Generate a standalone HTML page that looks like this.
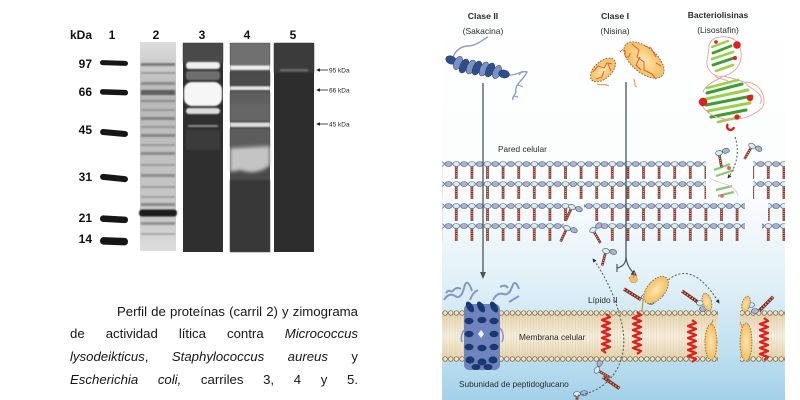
<!DOCTYPE html>
<html><head><meta charset="utf-8">
<style>
html,body{margin:0;padding:0;background:#fff;}
body{width:800px;height:400px;position:relative;overflow:hidden;font-family:"Liberation Sans",Arial,sans-serif;}
svg{position:absolute;left:0;top:0;}
.cap{position:absolute;left:70px;width:288px;font-size:13.2px;line-height:16px;color:#161616;text-align:justify;text-align-last:justify;}
</style></head><body>
<svg width="800" height="400" viewBox="0 0 800 400" xmlns="http://www.w3.org/2000/svg" font-family="Liberation Sans, Arial, sans-serif">
<defs>
  <filter id="bl1" x="-20%" y="-50%" width="140%" height="200%"><feGaussianBlur stdDeviation="0.9"/></filter>
  <filter id="bl2" x="-20%" y="-50%" width="140%" height="200%"><feGaussianBlur stdDeviation="1.8"/></filter>
  <linearGradient id="bg" x1="0" y1="0" x2="0" y2="1">
    <stop offset="0" stop-color="#ffffff"/>
    <stop offset="0.48" stop-color="#fbfdfe"/>
    <stop offset="0.7" stop-color="#e2f1f8"/>
    <stop offset="0.88" stop-color="#bfe0f0"/>
    <stop offset="1" stop-color="#a3d1ea"/>
  </linearGradient>
  <linearGradient id="memg" x1="0" y1="0" x2="0" y2="1">
    <stop offset="0" stop-color="#e3d2ad"/>
    <stop offset="0.5" stop-color="#f7f0e0"/>
    <stop offset="1" stop-color="#e3d2ad"/>
  </linearGradient>
  <linearGradient id="l2" x1="0" y1="0" x2="0" y2="1">
    <stop offset="0" stop-color="#dcdcdc"/>
    <stop offset="0.25" stop-color="#b8b8b8"/>
    <stop offset="0.6" stop-color="#c2c2c2"/>
    <stop offset="0.85" stop-color="#cacaca"/>
    <stop offset="1" stop-color="#dedede"/>
  </linearGradient>
  <radialGradient id="org" cx="0.5" cy="0.5" r="0.6">
    <stop offset="0" stop-color="#fde7b5"/>
    <stop offset="1" stop-color="#f4b54c"/>
  </radialGradient>
  <pattern id="pg" patternUnits="userSpaceOnUse" width="15.6" height="20">
    <line x1="3.9" y1="5" x2="3.9" y2="18" stroke="#7a2a1a" stroke-width="2.6"/>
    <line x1="3.9" y1="5.5" x2="3.9" y2="17.5" stroke="#f0b8a6" stroke-width="1.2" stroke-dasharray="1.1 1.1"/>
    <line x1="0" y1="3" x2="15.6" y2="3" stroke="#556070" stroke-width="0.8"/>
    <ellipse cx="3.9" cy="3" rx="3.5" ry="2.5" fill="#d4ecf4" stroke="#4a5568" stroke-width="0.6"/>
    <ellipse cx="11.7" cy="3" rx="3.5" ry="2.5" fill="#a9b3d3" stroke="#4a5568" stroke-width="0.6"/>
  </pattern>
  <pattern id="mc" patternUnits="userSpaceOnUse" width="5.6" height="6">
    <circle cx="2.8" cy="3" r="2.3" fill="#efe4c6" stroke="#6e5e3e" stroke-width="0.7"/>
  </pattern>
  <pattern id="mv" patternUnits="userSpaceOnUse" width="2.8" height="10">
    <line x1="1.4" y1="0" x2="1.4" y2="10" stroke="#d6c49c" stroke-width="0.5"/>
  </pattern>
  <g id="u">
    <line x1="0" y1="2" x2="0" y2="15" stroke="#7a2a1a" stroke-width="2.6"/>
    <line x1="0" y1="2.5" x2="0" y2="14.5" stroke="#f0b8a6" stroke-width="1.2" stroke-dasharray="1.1 1.1"/>
    <ellipse cx="0" cy="0" rx="3.5" ry="2.5" fill="#d4ecf4" stroke="#4a5568" stroke-width="0.6"/>
    <ellipse cx="7.2" cy="-1" rx="3.5" ry="2.5" fill="#a9b3d3" stroke="#4a5568" stroke-width="0.6"/>
  </g>
  <g id="chain">
    <line x1="0" y1="0" x2="20" y2="0" stroke="#7a2a1a" stroke-width="3.4"/>
    <line x1="0" y1="0" x2="20" y2="0" stroke="#f0a090" stroke-width="1.6" stroke-dasharray="1.4 1.6"/>
  </g>
  <marker id="ah" viewBox="0 0 10 10" refX="8" refY="5" markerWidth="5" markerHeight="5" orient="auto"><path d="M0,0 L10,5 L0,10 z" fill="#444"/></marker>
  <marker id="ah2" viewBox="0 0 10 10" refX="8" refY="5" markerWidth="4" markerHeight="4" orient="auto"><path d="M0,0 L10,5 L0,10 z" fill="#333"/></marker>
</defs>

<!-- ================= GEL ================= -->
<g font-weight="bold" font-size="12" fill="#111">
  <text x="70" y="39">kDa</text>
  <text x="112" y="39" text-anchor="middle">1</text>
  <text x="156" y="39" text-anchor="middle">2</text>
  <text x="202" y="39" text-anchor="middle">3</text>
  <text x="247" y="39" text-anchor="middle">4</text>
  <text x="293" y="39" text-anchor="middle">5</text>
  <text x="92" y="68" text-anchor="end">97</text>
  <text x="92" y="96" text-anchor="end">66</text>
  <text x="92" y="134" text-anchor="end">45</text>
  <text x="92" y="181" text-anchor="end">31</text>
  <text x="92" y="222" text-anchor="end">21</text>
  <text x="92" y="243" text-anchor="end">14</text>
</g>
<!-- lane 1 markers -->
<g fill="#161616">
  <rect x="100" y="60.5" width="28" height="5" rx="2.5" transform="rotate(2 114 63)"/>
  <rect x="100" y="89.5" width="28" height="5.5" rx="2.5" transform="rotate(2 114 92)"/>
  <rect x="100" y="130" width="28" height="6" rx="3" transform="rotate(5 114 133)"/>
  <rect x="100" y="175" width="28" height="6" rx="3" transform="rotate(6 114 178)"/>
  <rect x="100" y="216" width="28" height="6.5" rx="3" transform="rotate(3 114 219)"/>
  <rect x="100" y="237.5" width="28" height="7.5" rx="3.5" transform="rotate(2 114 241)"/>
</g>
<!-- lane 2 -->
<rect x="140" y="42" width="36" height="209" fill="url(#l2)"/>
<g filter="url(#bl1)">
  <rect x="141" y="63" width="34" height="3" fill="#7a7a7a"/>
  <rect x="141" y="72" width="34" height="2" fill="#999"/>
  <rect x="141" y="82" width="34" height="3" fill="#8a8a8a"/>
  <rect x="141" y="90" width="34" height="5" fill="#5e5e5e"/>
  <rect x="141" y="100" width="34" height="2" fill="#888"/>
  <rect x="141" y="109" width="34" height="2" fill="#959595"/>
  <rect x="141" y="117" width="34" height="3" fill="#838383"/>
  <rect x="141" y="126" width="34" height="2" fill="#959595"/>
  <rect x="141" y="134" width="34" height="3" fill="#858585"/>
  <rect x="141" y="144" width="34" height="2" fill="#989898"/>
  <rect x="141" y="152" width="34" height="3" fill="#898989"/>
  <rect x="141" y="164" width="34" height="2" fill="#9a9a9a"/>
  <rect x="141" y="174" width="34" height="3" fill="#8c8c8c"/>
  <rect x="141" y="186" width="34" height="2" fill="#9a9a9a"/>
  <rect x="141" y="196" width="34" height="2" fill="#a0a0a0"/>
  <rect x="141" y="203" width="34" height="3" fill="#898989"/>
  <rect x="139" y="209.5" width="38" height="7" rx="3" fill="#1c1c1c"/>
  <rect x="141" y="222" width="34" height="3" fill="#909090"/>
  <rect x="141" y="233" width="34" height="2" fill="#a8a8a8"/>
</g>
<!-- lane 3 -->
<rect x="183" y="43" width="40" height="209" fill="#2f2f2f"/>
<rect x="183" y="43" width="40" height="20" fill="#484848" filter="url(#bl1)"/>
<g filter="url(#bl1)">
  <rect x="186" y="62" width="34" height="7" rx="3" fill="#efefef"/>
  <rect x="186" y="71" width="34" height="9" rx="3" fill="#6e6e6e"/>
  <rect x="184" y="82" width="38" height="24" rx="8" fill="#f6f6f6"/>
  <rect x="186" y="108" width="34" height="6" rx="3" fill="#dcdcdc"/>
  <rect x="188" y="125" width="30" height="2" fill="#8c8c8c"/>
  <rect x="186" y="130" width="34" height="20" fill="#3a3a3a"/>
</g>
<!-- lane 4 -->
<rect x="230" y="43" width="40" height="209" fill="#4a4a4a"/>
<g filter="url(#bl1)">
  <rect x="230" y="43" width="40" height="22" fill="#707070"/>
  <rect x="230" y="65.5" width="40" height="4.5" fill="#eeeeee"/>
  <rect x="230" y="72" width="40" height="14" fill="#4c4c4c"/>
  <rect x="230" y="86.5" width="40" height="3.5" fill="#ececec"/>
  <rect x="230" y="92" width="40" height="12" fill="#5e5e5e"/>
  <rect x="230" y="104" width="40" height="17" fill="#666"/>
  <rect x="230" y="122.5" width="40" height="4.5" fill="#dedede"/>
  <rect x="230" y="129" width="40" height="18" fill="#5c5c5c"/>
  <rect x="230" y="180" width="40" height="72" fill="#383838"/>
</g>
<path d="M230,148 L270,146 L270,165 Q258,176 240,170 L230,172 Z" fill="#c4c4c4" filter="url(#bl2)"/>
<!-- lane 5 -->
<rect x="274" y="43" width="40" height="209" fill="#2d2d2d"/>
<rect x="274" y="43" width="40" height="30" fill="#3a3a3a" filter="url(#bl1)"/>
<rect x="280" y="69" width="28" height="2.5" fill="#6c6c6c" filter="url(#bl1)"/>
<!-- arrows -->
<g stroke="#222" stroke-width="0.8" fill="#222">
  <line x1="319" y1="70" x2="328" y2="70"/><path d="M316,70 L320,68.3 L320,71.7 Z" stroke="none"/>
  <line x1="319" y1="90" x2="328" y2="90"/><path d="M316,90 L320,88.3 L320,91.7 Z" stroke="none"/>
  <line x1="319" y1="124" x2="328" y2="124"/><path d="M316,124 L320,122.3 L320,125.7 Z" stroke="none"/>
</g>
<g font-size="6.5" fill="#222">
  <text x="329" y="72.3">95 kDa</text>
  <text x="329" y="92.3">66 kDa</text>
  <text x="329" y="126.3">45 kDa</text>
</g>

<!-- ================= DIAGRAM ================= -->
<rect x="442" y="0" width="343" height="400" fill="url(#bg)"/>

<!-- peptidoglycan rows -->
<g transform="translate(0,161)">
  <rect x="442" y="0" width="264" height="20" fill="url(#pg)"/>
  <rect x="753" y="0" width="32" height="20" fill="url(#pg)"/>
</g>
<g transform="translate(0,181)">
  <rect x="442" y="0" width="264" height="20" fill="url(#pg)"/>
  <rect x="753" y="0" width="32" height="20" fill="url(#pg)"/>
</g>
<g transform="translate(0,203)">
  <rect x="442" y="0" width="128" height="20" fill="url(#pg)"/>
  <rect x="584" y="0" width="161" height="20" fill="url(#pg)"/>
  <rect x="768" y="0" width="17" height="20" fill="url(#pg)"/>
</g>
<g transform="translate(0,223)">
  <rect x="442" y="0" width="122" height="20" fill="url(#pg)"/>
  <rect x="600" y="0" width="145" height="20" fill="url(#pg)"/>
  <rect x="762" y="0" width="23" height="20" fill="url(#pg)"/>
</g>
<!-- loose fragments -->
<use href="#u" transform="translate(572,207) rotate(25)"/>
<use href="#u" transform="translate(567,228) rotate(25)"/>
<use href="#u" transform="translate(593,230) rotate(-30)"/>
<use href="#u" transform="translate(606,251) rotate(15)"/>
<use href="#u" transform="translate(752,146) rotate(30)"/>
<use href="#u" transform="translate(719,153) rotate(-10)"/>
<use href="#u" transform="translate(577,394) rotate(0)"/>
<use href="#u" transform="translate(597,370) rotate(-60)"/>
<use href="#chain" transform="translate(603,377) rotate(35)"/>

<!-- membrane -->
<g>
  <rect x="442" y="313" width="276" height="46" fill="url(#memg)"/>
  <rect x="740" y="313" width="45" height="46" fill="url(#memg)"/>
  <rect x="442" y="316" width="276" height="40" fill="url(#mv)" opacity="0.7"/>
  <rect x="740" y="316" width="45" height="40" fill="url(#mv)" opacity="0.7"/>
  <g transform="translate(0,310)">
    <rect x="442" y="0" width="276" height="6" fill="url(#mc)"/>
    <rect x="740" y="0" width="45" height="6" fill="url(#mc)"/>
  </g>
  <g transform="translate(0,356)">
    <rect x="442" y="0" width="276" height="6" fill="url(#mc)"/>
    <rect x="740" y="0" width="45" height="6" fill="url(#mc)"/>
  </g>
</g>

<!-- Clase II arrow line -->
<line x1="483" y1="83" x2="483" y2="273" stroke="#4a5560" stroke-width="1.3"/>
<path d="M480,272 L486,272 L483,279 Z" fill="#4a5560"/>
<!-- Clase I line and split -->
<line x1="626" y1="82" x2="626" y2="258" stroke="#4a5560" stroke-width="1.3"/>
<path d="M626,257 Q626,266 617,268" fill="none" stroke="#4a5560" stroke-width="1.2"/>
<line x1="617" y1="264" x2="617" y2="272" stroke="#4a5560" stroke-width="1.2"/>
<path d="M626,257 Q627,268 636,275" fill="none" stroke="#4a5560" stroke-width="1.2" marker-end="url(#ah)"/>

<!-- dashed arrows -->
<g fill="none" stroke="#555" stroke-width="1" stroke-dasharray="2 1.8">
  <path d="M735,137 Q742,158 728,178" marker-end="url(#ah2)"/>
  <path d="M574,396 C612,392 630,360 622,325 C617,300 605,275 593,259" marker-end="url(#ah2)"/>
  <path d="M663,285 Q690,255 719,303" marker-end="url(#ah2)"/>
</g>

<!-- Sakacina free -->
<g>
  <path d="M453,58 C455,50 462,46 468,46 C476,46 482,40 488,37" fill="none" stroke="#8c9cd0" stroke-width="1.4"/>
  <path d="M508,75 C516,76 522,70 527,72 C524,80 514,84 516,92 C514,96 512,98 513,100" fill="none" stroke="#8c9cd0" stroke-width="1.4"/>
  <path d="M519,75 l3,-4 M518,85 l5,2 M514,96 l4,1" fill="none" stroke="#8c9cd0" stroke-width="1.2"/>
  <g stroke="#233e6e" stroke-width="0.5">
    <ellipse cx="451" cy="60" rx="5.5" ry="4" fill="#2f4f86" transform="rotate(20 451 60)"/>
    <ellipse cx="458" cy="63" rx="4" ry="7" fill="#7d92c2" transform="rotate(25 458 63)"/>
    <ellipse cx="464" cy="66" rx="4" ry="7.5" fill="#2f4f86" transform="rotate(25 464 66)"/>
    <ellipse cx="471" cy="67" rx="4" ry="7.5" fill="#7d92c2" transform="rotate(25 471 67)"/>
    <ellipse cx="477" cy="68" rx="4" ry="7.5" fill="#2f4f86" transform="rotate(25 477 68)"/>
    <ellipse cx="484" cy="69" rx="4" ry="7.5" fill="#7d92c2" transform="rotate(25 484 69)"/>
    <ellipse cx="490" cy="70" rx="4" ry="7.5" fill="#2f4f86" transform="rotate(25 490 70)"/>
    <ellipse cx="497" cy="72" rx="4" ry="7" fill="#7d92c2" transform="rotate(25 497 72)"/>
    <ellipse cx="504" cy="74" rx="5.5" ry="4" fill="#2f4f86" transform="rotate(10 504 74)"/>
  </g>
</g>

<!-- Nisina -->
<g>
  <ellipse cx="603" cy="70" rx="15" ry="8.5" transform="rotate(-42 603 70)" fill="url(#org)" stroke="#666" stroke-width="0.9" stroke-dasharray="1.6 1.4"/>
  <ellipse cx="644" cy="60" rx="24" ry="12.5" transform="rotate(40 644 60)" fill="url(#org)" stroke="#666" stroke-width="0.9" stroke-dasharray="1.6 1.4"/>
  <path d="M593,72 l5,-6 l6,2 l3,-5 l5,1 M596,79 l6,-2 l2,-6 M608,64 l3,7 M620,52 c3,-4 6,-2 5,2 c-1,5 6,4 5,-1" fill="none" stroke="#e8501c" stroke-width="0.9"/>
  <path d="M632,44 l7,6 l-2,7 l7,5 l0,8 l8,4 l4,5 M645,46 l6,2 l5,9 M640,57 l-4,8 l5,5 M656,63 l5,3" fill="none" stroke="#e8501c" stroke-width="0.9"/>
  <path d="M597,84 c4,2 8,-1 12,2 M634,79 c2,4 -1,6 3,8" fill="none" stroke="#f08040" stroke-width="0.9"/>
</g>

<!-- Lysostaphin -->
<g>
  <path d="M712,40 C720,34 738,36 740,48 C744,60 738,72 724,76 C712,78 704,68 708,56 C709,48 708,44 712,40 Z" fill="none" stroke="#e8a0a0" stroke-width="0.9"/>
  <path d="M724,76 C735,80 745,80 748,86 C755,90 765,96 760,104 M722,77 C712,82 705,86 703,92 M715,76 c4,4 10,2 14,6" fill="none" stroke="#e8a0a0" stroke-width="1"/>
  <g stroke-linecap="round">
    <path d="M712,47 L728,41" stroke="#9bd04a" stroke-width="2.4"/>
    <path d="M713,53 L731,46" stroke="#3d9e2e" stroke-width="2.8"/>
    <path d="M712,59 L733,52" stroke="#9bd04a" stroke-width="2.6"/>
    <path d="M713,65 L734,58" stroke="#3d9e2e" stroke-width="2.8"/>
    <path d="M716,71 L733,65" stroke="#9bd04a" stroke-width="2.6"/>
    <path d="M707,88 L738,80" stroke="#9bd04a" stroke-width="2.6"/>
    <path d="M707,93 L742,84" stroke="#3d9e2e" stroke-width="3"/>
    <path d="M706,99 L748,90" stroke="#9bd04a" stroke-width="3"/>
    <path d="M706,105 L752,96" stroke="#3d9e2e" stroke-width="3"/>
    <path d="M708,111 L750,103" stroke="#9bd04a" stroke-width="3"/>
    <path d="M711,117 L746,110" stroke="#3d9e2e" stroke-width="3"/>
    <path d="M718,122 L740,117" stroke="#9bd04a" stroke-width="2.6"/>
  </g>
  <path d="M700,100 C704,120 740,128 762,108 C768,98 760,82 745,82" fill="none" stroke="#e8a0a0" stroke-width="0.9"/>
  <circle cx="737" cy="45" r="3.8" fill="#e02020"/>
  <circle cx="735" cy="58" r="2" fill="#e02020"/>
  <circle cx="716" cy="42" r="1.8" fill="#e02020"/>
  <circle cx="703" cy="102" r="4.2" fill="#e02020"/>
  <circle cx="750" cy="98" r="3.2" fill="#e02020"/>
  <circle cx="737" cy="117" r="2.6" fill="#e02020"/>
  <path d="M728,124 a3.5,3.5 0 1,0 6,3" fill="none" stroke="#e02020" stroke-width="2.4"/>
  <g opacity="0.7">
    <path d="M714,170 L730,164 M716,176 L734,170 M716,190 L732,186 M718,196 L734,192" stroke="#5bb03a" stroke-width="2.2"/>
    <circle cx="729" cy="168" r="2" fill="#e02020"/>
    <circle cx="722" cy="196" r="1.8" fill="#e02020"/>
    <path d="M710,178 C716,184 735,182 738,196" fill="none" stroke="#e8a0a0" stroke-width="0.8"/>
  </g>
</g>

<!-- Sakacina pore -->
<g>
  <path d="M444,300 q5,-8 11,-4 t9,-8 t8,3 M452,292 q4,-6 9,-3 M470,300 q3,-8 8,-10 M446,293 q3,-4 6,-1" fill="none" stroke="#8596c8" stroke-width="2"/>
  <path d="M493,300 q4,-8 10,-6 t9,-7 t7,2 M500,287 q5,-3 8,1 M509,302 q5,-3 10,-6" fill="none" stroke="#8596c8" stroke-width="2"/>
  <rect x="464" y="304" width="36" height="66" rx="5" fill="#6f84bc"/>
  <g fill="#1b3772">
    <ellipse cx="470" cy="307" rx="3.2" ry="6" transform="rotate(-30 470 307)"/>
    <ellipse cx="481" cy="307" rx="3.2" ry="6" transform="rotate(-30 481 307)"/>
    <ellipse cx="494" cy="307" rx="3.2" ry="6" transform="rotate(-30 494 307)"/>
    <ellipse cx="469" cy="321" rx="4.5" ry="3.2" />
    <ellipse cx="482" cy="320" rx="4.5" ry="3.2" />
    <ellipse cx="494" cy="321" rx="4.5" ry="3.2" />
    <ellipse cx="469" cy="334" rx="4.5" ry="3.2" />
    <ellipse cx="494" cy="334" rx="4.5" ry="3.2" />
    <ellipse cx="469" cy="347" rx="4.5" ry="3.2" />
    <ellipse cx="482" cy="348" rx="4.5" ry="3.2" />
    <ellipse cx="494" cy="347" rx="4.5" ry="3.2" />
    <ellipse cx="470" cy="360" rx="4.5" ry="3.6" />
    <ellipse cx="482" cy="362" rx="4.5" ry="3.6" />
    <ellipse cx="493" cy="360" rx="4.5" ry="3.6" />
    <ellipse cx="476" cy="367" rx="4.5" ry="3" />
    <ellipse cx="488" cy="367" rx="4.5" ry="3" />
  </g>
  <path d="M481,330 l3,4 l-3,4 l-3,-4 z" fill="#f0f4fa"/>
  <path d="M464,330 q-4,6 -2,12 M500,328 q5,6 2,14" fill="none" stroke="#8596c8" stroke-width="1.6"/>
</g>

<!-- red helices -->
<g fill="none" stroke="#e0201c" stroke-width="2.3" stroke-linejoin="round">
  <path d="M606,314 l4,3 l-8,3 l8,3 l-8,3 l8,3 l-8,3 l8,3 l-8,3 l8,3 l-8,3 l8,3 l-8,3 l4,3"/>
  <path d="M637,312 l4,3 l-8,3 l8,3 l-8,3 l8,3 l-8,3 l8,3 l-8,3 l8,3 l-8,3 l8,3 l-8,3 l8,3 l-4,3"/>
  <path d="M692,320 l4,3 l-8,3 l8,3 l-8,3 l8,3 l-8,3 l8,3 l-8,3 l8,3 l-8,3 l8,3 l-8,3 l8,3 l-4,3"/>
  <path d="M764,318 l4,3 l-8,3 l8,3 l-8,3 l8,3 l-8,3 l8,3 l-8,3 l8,3 l-8,3 l8,3 l-8,3 l8,3 l-4,3"/>
</g>

<!-- Lipid II groups & orange nisin in membrane -->
<g>
  <use href="#chain" transform="translate(624,289) rotate(32)"/>
  <ellipse cx="645" cy="297" rx="3.5" ry="2.5" fill="#d4ecf4" stroke="#4a5568" stroke-width="0.6"/>
  <ellipse cx="651" cy="302" rx="3.5" ry="2.5" fill="#a9b3d3" stroke="#4a5568" stroke-width="0.6"/>
  <path d="M643,300 l-1,12" stroke="#c89040" stroke-width="1.2" fill="none"/>
  <ellipse cx="656" cy="290" rx="9" ry="16" transform="rotate(40 656 290)" fill="url(#org)" stroke="#666" stroke-width="0.8" stroke-dasharray="1.5 1.3"/>
  <path d="M629,278 c3,-4 7,-4 8,0 c2,4 -3,6 -6,4 z" fill="#f6c060" stroke="#666" stroke-width="0.6" stroke-dasharray="1.2 1"/>
  <path d="M634,272 c2,3 -2,4 0,6" stroke="#e08040" fill="none" stroke-width="1"/>

  <use href="#chain" transform="translate(682,291) rotate(35)"/>
  <ellipse cx="700" cy="303" rx="3.5" ry="2.5" fill="#d4ecf4" stroke="#4a5568" stroke-width="0.6"/>
  <ellipse cx="703" cy="309" rx="3.5" ry="2.5" fill="#a9b3d3" stroke="#4a5568" stroke-width="0.6"/>
  <ellipse cx="707" cy="302" rx="4.5" ry="9" transform="rotate(-15 707 302)" fill="url(#org)" stroke="#666" stroke-width="0.7" stroke-dasharray="1.5 1.3"/>
  <ellipse cx="711" cy="342" rx="6" ry="18" fill="url(#org)" stroke="#666" stroke-width="0.8" stroke-dasharray="1.5 1.3"/>
  <path d="M712,320 c3,2 -3,3 0,5" stroke="#e08040" fill="none" stroke-width="1"/>

  <use href="#chain" transform="translate(759,311) rotate(-45)"/>
  <ellipse cx="751" cy="305" rx="3.5" ry="2.5" fill="#d4ecf4" stroke="#4a5568" stroke-width="0.6"/>
  <ellipse cx="755" cy="311" rx="3.5" ry="2.5" fill="#a9b3d3" stroke="#4a5568" stroke-width="0.6"/>
  <ellipse cx="746" cy="304" rx="4" ry="8" transform="rotate(15 746 304)" fill="url(#org)" stroke="#666" stroke-width="0.7" stroke-dasharray="1.5 1.3"/>
  <ellipse cx="746" cy="342" rx="6" ry="19" fill="url(#org)" stroke="#666" stroke-width="0.8" stroke-dasharray="1.5 1.3"/>
  <path d="M741,322 c-3,2 3,3 0,5" stroke="#e08040" fill="none" stroke-width="1"/>
</g>

<!-- diagram labels -->
<g fill="#2a2a2a" font-size="8.5">
  <text x="483" y="19" text-anchor="middle" font-weight="bold" font-size="8.7">Clase II</text>
  <text x="483" y="34" text-anchor="middle">(Sakacina)</text>
  <text x="615" y="19" text-anchor="middle" font-weight="bold" font-size="8.7">Clase I</text>
  <text x="615" y="34" text-anchor="middle">(Nisina)</text>
  <text x="718" y="18" text-anchor="middle" font-weight="bold">Bacteriolisinas</text>
  <text x="718" y="33" text-anchor="middle">(Lisostafin)</text>
  <text x="498" y="152" font-size="8.3">Pared celular</text>
  <text x="588" y="303" font-size="8.3">Lípido II</text>
  <text x="519" y="340" font-size="8.3">Membrana celular</text>
  <text x="459" y="387" font-size="8.3">Subunidad de peptidoglucano</text>
</g>
</svg>

<div class="cap" style="top:304px;"><span style="display:inline-block;width:47px"></span>Perfil de proteínas (carril 2) y zimograma</div>
<div class="cap" style="top:326px;">de actividad lítica contra <i>Micrococcus</i></div>
<div class="cap" style="top:349px;"><i>lysodeikticus</i>, <i>Staphylococcus</i> <i>aureus</i> y</div>
<div class="cap" style="top:372px;"><i>Escherichia</i> <i>coli,</i> carriles 3, 4 y 5.</div>
</body></html>
